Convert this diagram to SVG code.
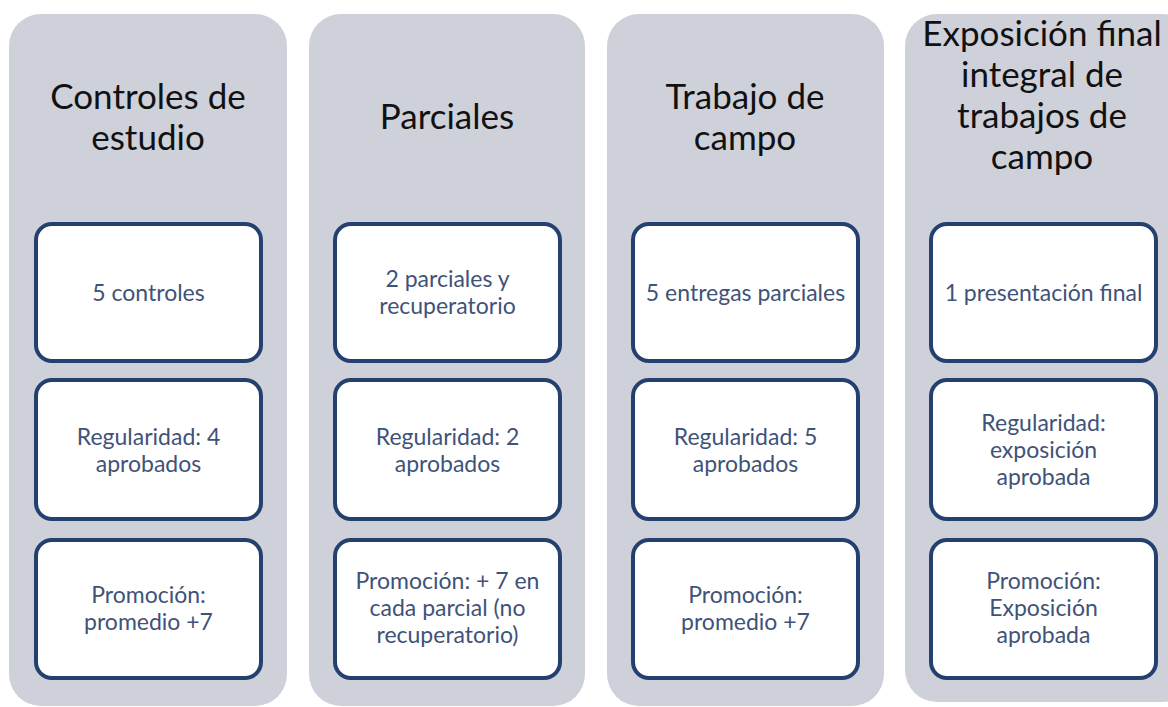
<svg xmlns="http://www.w3.org/2000/svg" width="1168" height="707" viewBox="0 0 1168 707">
<style>
.col{fill:#CED0DA}
.box{fill:#FFFFFF;stroke:#23406E;stroke-width:4}
.title{font-family:Lato,"Open Sans",sans-serif;font-size:35px;fill:#111111;text-anchor:middle}
.t{font-family:Lato,"Open Sans",sans-serif;font-size:23px;fill:#3F5379;text-anchor:middle}
</style>
<rect width="1168" height="707" fill="#FFFFFF"/>
<g id="col1">
<rect class="col" x="9" y="14" width="278" height="692" rx="32"/>
<text class="title" x="148" y="109">Controles de</text>
<text class="title" x="148" y="150">estudio</text>
</g>
<g id="col2">
<rect class="col" x="309" y="14" width="276" height="692" rx="32"/>
<text class="title" x="447" y="129">Parciales</text>
</g>
<g id="col3">
<rect class="col" x="607" y="14" width="277" height="692" rx="32"/>
<text class="title" x="745" y="109">Trabajo de</text>
<text class="title" x="745" y="150">campo</text>
</g>
<g id="col4">
<rect class="col" x="905" y="14" width="290" height="688" rx="32"/>
<text class="title" x="1042" y="46">Exposición final</text>
<text class="title" x="1042" y="87">integral de</text>
<text class="title" x="1042" y="128">trabajos de</text>
<text class="title" x="1042" y="169">campo</text>
</g>
<g id="c1b1"><rect class="box" x="36" y="224" width="225" height="137" rx="16"/><text class="t" x="148.5" y="301">5 controles</text></g>
<g id="c1b2"><rect class="box" x="36" y="380" width="225" height="139" rx="16"/><text class="t" x="148.5" y="445">Regularidad: 4</text><text class="t" x="148.5" y="472">aprobados</text></g>
<g id="c1b3"><rect class="box" x="36" y="540" width="225" height="138" rx="16"/><text class="t" x="148.5" y="603">Promoción:</text><text class="t" x="148.5" y="630">promedio +7</text></g>
<g id="c2b1"><rect class="box" x="335" y="224" width="225" height="137" rx="16"/><text class="t" x="447.5" y="287">2 parciales y</text><text class="t" x="447.5" y="314">recuperatorio</text></g>
<g id="c2b2"><rect class="box" x="335" y="380" width="225" height="139" rx="16"/><text class="t" x="447.5" y="445">Regularidad: 2</text><text class="t" x="447.5" y="472">aprobados</text></g>
<g id="c2b3"><rect class="box" x="335" y="540" width="225" height="138" rx="16"/><text class="t" x="447.5" y="589">Promoción: + 7 en</text><text class="t" x="447.5" y="616">cada parcial (no</text><text class="t" x="447.5" y="643">recuperatorio)</text></g>
<g id="c3b1"><rect class="box" x="633" y="224" width="225" height="137" rx="16"/><text class="t" x="745.5" y="301">5 entregas parciales</text></g>
<g id="c3b2"><rect class="box" x="633" y="380" width="225" height="139" rx="16"/><text class="t" x="745.5" y="445">Regularidad: 5</text><text class="t" x="745.5" y="472">aprobados</text></g>
<g id="c3b3"><rect class="box" x="633" y="540" width="225" height="138" rx="16"/><text class="t" x="745.5" y="603">Promoción:</text><text class="t" x="745.5" y="630">promedio +7</text></g>
<g id="c4b1"><rect class="box" x="931" y="224" width="225" height="137" rx="16"/><text class="t" x="1043.5" y="301">1 presentación final</text></g>
<g id="c4b2"><rect class="box" x="931" y="380" width="225" height="139" rx="16"/><text class="t" x="1043.5" y="431">Regularidad:</text><text class="t" x="1043.5" y="458">exposición</text><text class="t" x="1043.5" y="485">aprobada</text></g>
<g id="c4b3"><rect class="box" x="931" y="540" width="225" height="138" rx="16"/><text class="t" x="1043.5" y="589">Promoción:</text><text class="t" x="1043.5" y="616">Exposición</text><text class="t" x="1043.5" y="643">aprobada</text></g>
<g id="connectors"></g>
</svg>
